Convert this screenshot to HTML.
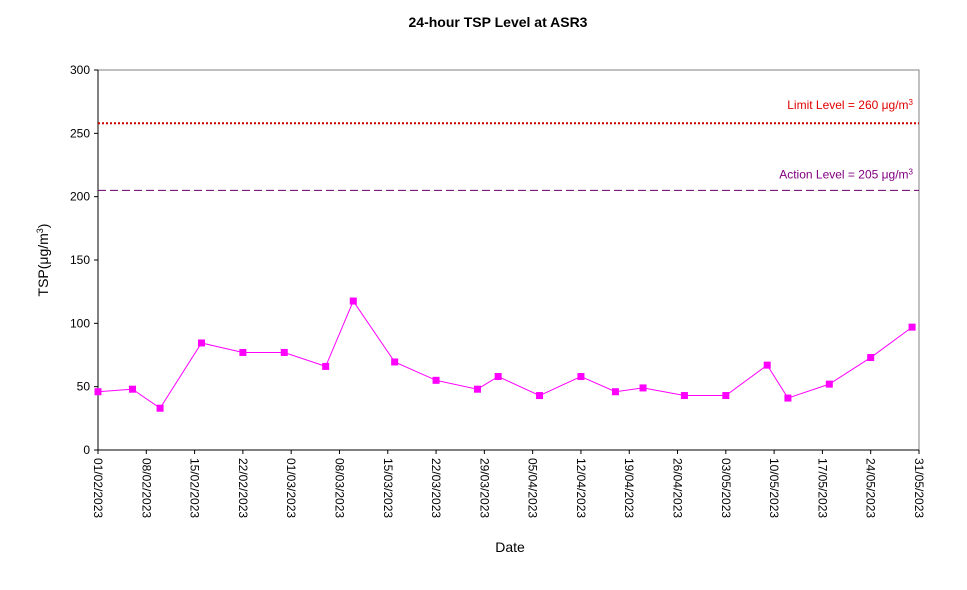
<!DOCTYPE html>
<html><head><meta charset="utf-8"><style>
body{margin:0;background:#fff;}
svg{display:block;font-family:"Liberation Sans",Arial,sans-serif;}
</style></head><body>
<svg id="chart" width="967" height="590">
<text x="498" y="27" text-anchor="middle" font-size="14" font-weight="bold">24-hour TSP Level at ASR3</text>
<text x="510" y="552" text-anchor="middle" font-size="14">Date</text>
<text transform="translate(48,260) rotate(-90)" text-anchor="middle" font-size="14">TSP(μg/m<tspan baseline-shift="super" font-size="9">3</tspan>)</text>
<g id="plot"></g>
</svg>
<script>
const dates=["2023-02-01","2023-02-06","2023-02-10","2023-02-16","2023-02-22","2023-02-28","2023-03-06","2023-03-10","2023-03-16","2023-03-22","2023-03-28","2023-03-31","2023-04-06","2023-04-12","2023-04-17","2023-04-21","2023-04-27","2023-05-03","2023-05-09","2023-05-12","2023-05-18","2023-05-24","2023-05-30"];
const values=[46,48,33,84.5,77,77,66,117.6,69.5,55,48,58,43,58,46,49,43,43,67,41,52,73,97];
const yTicks=[0,50,100,150,200,250,300];
const xTickLabels=["01/02/2023","08/02/2023","15/02/2023","22/02/2023","01/03/2023","08/03/2023","15/03/2023","22/03/2023","29/03/2023","05/04/2023","12/04/2023","19/04/2023","26/04/2023","03/05/2023","10/05/2023","17/05/2023","24/05/2023","31/05/2023"];
const limitLevel=258;
const actionLevel=205;
const NS="http://www.w3.org/2000/svg";
const L=98,R=919,T=70,B=450;
const t0=Date.UTC(2023,1,1),t1=Date.UTC(2023,4,31);
function parseD(s){const p=s.split("-");return Date.UTC(+p[0],+p[1]-1,+p[2]);}
function parseL(s){const p=s.split("/");return Date.UTC(+p[2],+p[1]-1,+p[0]);}
const xS=t=>L+(t-t0)/(t1-t0)*(R-L);
const yS=v=>B-v/300*(B-T);
const g=document.getElementById("plot");
function mk(tag,attrs){const e=document.createElementNS(NS,tag);for(const k in attrs)e.setAttribute(k,attrs[k]);g.appendChild(e);return e;}
let e=mk("rect",{x:L,y:T,width:R-L,height:B-T,fill:"none",stroke:"#808080","stroke-width":1});


yTicks.forEach(v=>{
 let tk=mk("line",{x1:L-4,x2:L,y1:yS(v),y2:yS(v),stroke:"#000"});
 
 
 let tx=mk("text",{x:L-8,y:yS(v)+4,"text-anchor":"end","font-size":"12"});
 tx.textContent=v;
 
 
});
let ax=mk("line",{x1:L,x2:R,y1:B,y2:B,stroke:"#000"});


let ay=mk("line",{x1:L,x2:L,y1:T,y2:B,stroke:"#000"});


xTickLabels.forEach(s=>{
 const x=xS(parseL(s));
 let tk=mk("line",{x1:x,x2:x,y1:B,y2:B+4,stroke:"#000"});
 
 
 let tx=mk("text",{transform:`translate(${x-4},458) rotate(90)`,"font-size":"12"});
 tx.textContent=s;
 
 
});
let ll=mk("line",{x1:L,x2:R,y1:yS(limitLevel),y2:yS(limitLevel),stroke:"#cc0000","stroke-width":2,"stroke-dasharray":"2,2"});


let lt=mk("text",{x:913,y:yS(limitLevel)-14,"text-anchor":"end","font-size":"12",fill:"#e00000"});
lt.innerHTML='Limit Level  = 260 μg/m<tspan baseline-shift="super" font-size="8">3</tspan>';


let al=mk("line",{x1:L,x2:R,y1:yS(actionLevel),y2:yS(actionLevel),stroke:"#6a006a","stroke-width":1,"stroke-dasharray":"8,4"});


let at=mk("text",{x:913,y:yS(actionLevel)-12,"text-anchor":"end","font-size":"12",fill:"#800080"});
at.innerHTML='Action Level  = 205 μg/m<tspan baseline-shift="super" font-size="8">3</tspan>';


const pts=dates.map((d,i)=>[xS(parseD(d)),yS(values[i])]);
let pl=mk("polyline",{points:pts.map(p=>p.join(",")).join(" "),fill:"none",stroke:"#ff00ff","stroke-width":1});


pts.forEach(p=>{
 let m=mk("rect",{x:p[0]-3.5,y:p[1]-3.5,width:7,height:7,fill:"#ff00ff"});
 
 
});
</script>
</body></html>
